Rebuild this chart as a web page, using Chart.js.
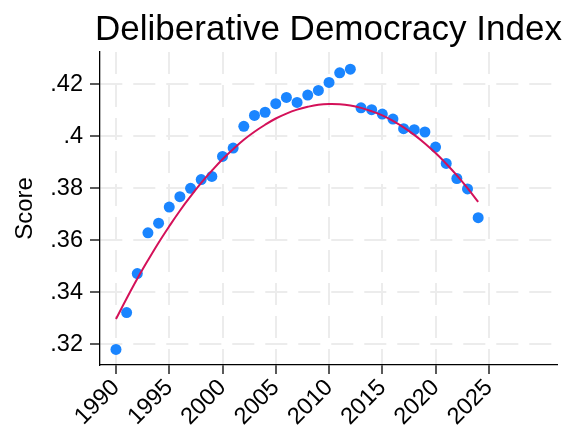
<!DOCTYPE html>
<html>
<head>
<meta charset="utf-8">
<script src="https://cdn.jsdelivr.net/npm/chart.js@4.4.1/dist/chart.umd.min.js"></script>
<style>
  html, body { margin: 0; padding: 0; background: #fff; }
  #wrap { width: 575px; height: 428px; }
</style>
</head>
<body>
<div id="wrap"><canvas id="chart"></canvas></div>
<script>
// observed yearly scores
const years = [1990, 1991, 1992, 1993, 1994, 1995, 1996, 1997, 1998, 1999,
    2000, 2001, 2002, 2003, 2004, 2005, 2006, 2007, 2008, 2009,
    2010, 2011, 2012, 2013, 2014, 2015, 2016, 2017, 2018, 2019,
    2020, 2021, 2022, 2023, 2024];
const scores = [0.318, 0.3322, 0.3472, 0.3629, 0.3666, 0.3728, 0.3768, 0.380, 0.3834, 0.3846,
    0.3923, 0.3955, 0.4039, 0.4081, 0.4093, 0.4126, 0.4150, 0.4131, 0.4159, 0.4177,
    0.4208, 0.4245, 0.4259, 0.4110, 0.4103, 0.4086, 0.4067, 0.4030, 0.4026, 0.4017,
    0.3959, 0.3896, 0.3838, 0.3798, 0.3687];

// fitted curve
const fitScores = [0.3297, 0.3376, 0.3452, 0.3523, 0.3591, 0.3654, 0.3714, 0.3769, 0.3821, 0.3868,
    0.3912, 0.3951, 0.3987, 0.4018, 0.4045, 0.4069, 0.4088, 0.4103, 0.4114, 0.4122,
    0.4125, 0.4124, 0.4119, 0.4110, 0.4097, 0.4081, 0.4060, 0.4035, 0.4006, 0.3973,
    0.3936, 0.3895, 0.3850, 0.3801, 0.3748];

const xTicks = [1990, 1995, 2000, 2005, 2010, 2015, 2020, 2025];
const yTicks = [0.32, 0.34, 0.36, 0.38, 0.40, 0.42];

const titleText = "Deliberative Democracy Index";
const fontFamily = "'Liberation Sans', Arial, Helvetica, sans-serif";

// title centred over the plot area, x labels slanted at 45 degrees
const textPlugin = {
    id: "extraText",
    afterDraw(chart) {
        const ctx = chart.ctx;
        const area = chart.chartArea;
        const xScale = chart.scales.x;
        ctx.save();
        ctx.font = "35px " + fontFamily;
        ctx.fillStyle = "#000";
        ctx.textAlign = "center";
        ctx.textBaseline = "alphabetic";
        ctx.fillText(titleText, (area.left + area.right) / 2, 40);

        ctx.font = "23.5px " + fontFamily;
        ctx.textAlign = "right";
        ctx.textBaseline = "middle";
        xTicks.forEach((v) => {
            const px = xScale.getPixelForValue(v);
            ctx.save();
            ctx.translate(px, area.bottom + 19);
            ctx.rotate(-Math.PI / 4);
            ctx.fillText(String(v), 0, 0);
            ctx.restore();
        });
        ctx.restore();
    }
};

const ctx = document.getElementById("chart").getContext("2d");

new Chart(ctx, {
    type: "scatter",
    data: {
        datasets: [
            {
                label: "Fit",
                data: years.map((y, i) => ({ x: y, y: fitScores[i] })),
                showLine: true,
                borderColor: "#d41159",
                borderWidth: 2,
                pointRadius: 0,
                tension: 0.4,
                order: 0,
            },
            {
                label: "Score",
                data: years.map((y, i) => ({ x: y, y: scores[i] })),
                backgroundColor: "#1a85ff",
                borderWidth: 0,
                pointRadius: 5.5,
                order: 1,
            },
        ],
    },
    options: {
        responsive: true,
        maintainAspectRatio: false,
        animation: false,
        layout: {
            padding: { top: 52, right: 18, left: 0, bottom: 0 },
        },
        plugins: {
            legend: { display: false },
            tooltip: { enabled: false },
        },
        scales: {
            x: {
                type: "linear",
                min: 1988.5,
                max: 2031.4,
                afterBuildTicks: (scale) => {
                    scale.ticks = xTicks.map((v) => ({ value: v }));
                },
                afterFit: (scale) => {
                    scale.height = 63;
                },
                ticks: {
                    display: false,
                },
                grid: {
                    color: "#ececec",
                    lineWidth: 2,
                    tickColor: "#000",
                    tickLength: 9,
                    tickWidth: 1.3,
                    tickBorderDash: [],
                },
                border: {
                    display: true,
                    color: "#000",
                    width: 1.3,
                    dash: [22, 11],
                },
            },
            y: {
                type: "linear",
                min: 0.312,
                max: 0.4325,
                afterBuildTicks: (scale) => {
                    scale.ticks = yTicks.map((v) => ({ value: v }));
                },
                afterFit: (scale) => {
                    scale.width = 100;
                },
                ticks: {
                    padding: 7,
                    color: "#000",
                    font: { family: fontFamily, size: 23.5 },
                    callback: (v) => String(+v.toFixed(2)).replace(/^0\./, "."),
                },
                title: {
                    display: true,
                    text: "Score",
                    color: "#000",
                    font: { family: fontFamily, size: 24 },
                    padding: { top: 11, bottom: 0 },
                },
                grid: {
                    color: "#ececec",
                    lineWidth: 2,
                    tickColor: "#000",
                    tickLength: 10,
                    tickWidth: 1.3,
                    tickBorderDash: [],
                },
                border: {
                    display: true,
                    color: "#000",
                    width: 1.3,
                    dash: [22, 11],
                },
            },
        },
    },
    plugins: [textPlugin],
});
</script>
</body>
</html>
